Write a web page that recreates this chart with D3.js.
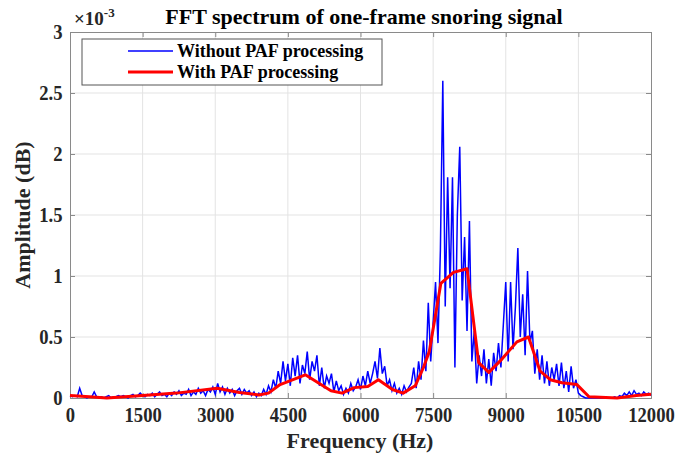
<!DOCTYPE html>
<html>
<head>
<meta charset="utf-8">
<script src="https://cdn.jsdelivr.net/npm/d3@7"></script>
<style>
  body { margin: 0; background: #fff; }
  text { font-family: "Liberation Serif", "Times New Roman", serif; font-weight: bold; }
</style>
</head>
<body>
<script>
// amplitudes in units of 1e-3, blue sampled every 50 Hz from 0 to 12000
const freq_step = 50
const raw_amp = [
  0.02,0.01,0.02,0.01,0.08,0.02,0.01,0.00,0.01,0.01,
  0.05,0.01,0.00,0.01,0.00,0.01,0.02,0.00,0.01,0.01,
  0.02,0.01,0.02,0.01,0.00,0.02,0.03,0.01,0.02,0.04,
  0.02,
  0.01,0.03,0.02,0.04,0.01,0.03,0.05,0.02,0.03,0.01,
  0.04,0.02,0.05,0.03,0.06,0.02,0.04,0.03,0.07,0.02,
  0.05,0.03,0.08,0.04,0.06,0.02,0.07,0.05,0.09,0.03,
  0.12,0.05,0.09,0.03,0.08,0.04,0.07,0.02,0.06,0.08,
  0.03,0.07,0.04,0.06,0.02,0.05,0.01,0.04,0.02,0.07,
  0.03,0.10,0.05,0.15,0.08,0.22,0.12,0.30,0.14,0.28,
  0.10,0.33,0.18,0.35,0.12,0.27,0.20,0.38,0.15,0.30,
  0.22,0.35,0.10,0.25,0.08,0.18,0.12,0.20,0.05,0.14,
  0.06,0.10,0.03,0.08,0.04,0.12,0.06,0.09,0.15,0.07,
  0.18,0.10,0.22,0.12,0.20,0.30,0.16,0.41,0.20,0.26,
  0.10,0.15,0.06,0.12,0.04,0.08,0.03,0.10,0.05,0.09,
  0.12,0.25,0.08,0.30,0.15,0.47,0.22,0.78,0.30,0.62,
  0.95,0.45,1.21,2.60,0.75,1.81,0.90,1.81,0.25,1.50,
  2.06,0.80,1.32,0.55,1.45,0.30,0.55,0.12,0.35,0.18,
  0.40,0.12,0.32,0.10,0.37,0.22,0.45,0.25,0.60,0.95,
  0.30,0.95,0.40,0.75,1.23,0.50,0.85,0.35,1.04,0.45,
  0.55,0.20,0.40,0.15,0.35,0.12,0.30,0.10,0.25,0.15,
  0.28,0.10,0.29,0.08,0.22,0.05,0.26,0.08,0.15,0.04,
  0.02,0.01,0.00,0.00,0.00,0.00,0.00,0.00,0.00,0.00,
  0.00,0.00,0.00,0.00,0.01,0.00,0.02,0.01,0.04,0.02,
  0.05,0.02,0.06,0.03,0.04,0.02,0.05,0.03,0.04,0.02
]
const paf_freq = [0,400,760,1500,2200,3040,3500,3900,4100,4340,4860,5390,5620,5870,6150,6370,6660,6880,7130,7300,7420,7660,7920,8200,8440,8650,8900,9230,9470,9710,9920,10160,10470,10720,11300,11700,12000]
const paf_amp  = [0.02,0.01,0.00,0.02,0.04,0.08,0.045,0.025,0.04,0.11,0.19,0.06,0.04,0.085,0.095,0.15,0.07,0.04,0.10,0.25,0.38,0.94,1.03,1.06,0.29,0.21,0.31,0.46,0.50,0.22,0.15,0.125,0.11,0.01,0.0,0.02,0.03]
const x_ticks = [0,1500,3000,4500,6000,7500,9000,10500,12000]
const y_ticks = [0,0.5,1,1.5,2,2.5,3]

const W = 694, H = 460
const m = {left: 70, top: 32, right: 694 - 651, bottom: 460 - 398}
const iw = W - m.left - m.right, ih = H - m.top - m.bottom

const svg = d3.select('body').append('svg').attr('width', W).attr('height', H)

const x = d3.scaleLinear().domain([0, 12000]).range([0, iw])
const y = d3.scaleLinear().domain([0, 3]).range([ih, 0])

const g = svg.append('g').attr('transform', `translate(${m.left},${m.top})`)

// grid
g.append('g').selectAll('line').data(x_ticks.slice(1, -1)).enter().append('line')
  .attr('x1', d => x(d)).attr('x2', d => x(d)).attr('y1', 0).attr('y2', ih)
  .attr('stroke', '#e3e3e3').attr('stroke-width', 1)
g.append('g').selectAll('line').data(y_ticks.slice(1, -1)).enter().append('line')
  .attr('y1', d => y(d)).attr('y2', d => y(d)).attr('x1', 0).attr('x2', iw)
  .attr('stroke', '#e3e3e3').attr('stroke-width', 1)

// axes (ticks inward like matlab)
const tk = 5
const xa = g.append('g').attr('transform', `translate(0,${ih})`)
  .call(d3.axisBottom(x).tickValues(x_ticks).tickSize(-tk).tickPadding(10).tickFormat(d3.format('d')))
const xt = g.append('g').call(d3.axisTop(x).tickValues(x_ticks).tickSize(-tk).tickFormat(''))
const ya = g.append('g').call(d3.axisLeft(y).tickValues(y_ticks).tickSize(-tk).tickPadding(8).tickFormat(d => d))
const yr = g.append('g').attr('transform', `translate(${iw},0)`).call(d3.axisRight(y).tickValues(y_ticks).tickSize(-tk).tickFormat(''))
for (const a of [xa, xt, ya, yr]) {
  a.select('.domain').attr('stroke', '#8a8a8a')
  a.selectAll('.tick line').attr('stroke', '#8a8a8a')
  a.selectAll('.tick text').attr('fill', '#262626').attr('font-size', 20)
    .attr('font-family', '"Liberation Serif", serif').attr('font-weight', 'bold')
    .attr('transform', 'scale(0.93,1)')
}

// series
const blue = raw_amp.map((v, i) => ({f: i * freq_step, v: v}))
const red = paf_freq.map((f, i) => ({f: f, v: paf_amp[i]}))
const line = d3.line().x(d => x(d.f)).y(d => y(d.v))

g.append('path').datum(blue).attr('d', line)
  .attr('fill', 'none').attr('stroke', '#0000ff').attr('stroke-width', 1.5)
g.append('path').datum(red).attr('d', line)
  .attr('fill', 'none').attr('stroke', '#ff0000').attr('stroke-width', 3).attr('stroke-linejoin', 'round')

// legend
const lg = svg.append('g')
lg.append('rect').attr('x', 82).attr('y', 39).attr('width', 300).attr('height', 46)
  .attr('fill', '#fff').attr('stroke', '#555').attr('stroke-width', 1)
const legend_items = [['Without PAF processing', '#0000ff', 1.5], ['With PAF processing', '#ff0000', 3]]
legend_items.forEach((it, i) => {
  const yy = 51 + i * 21
  lg.append('line').attr('x1', 128).attr('x2', 173).attr('y1', yy).attr('y2', yy)
    .attr('stroke', it[1]).attr('stroke-width', it[2])
  lg.append('text').attr('x', 177).attr('y', yy + 6).attr('font-size', 18).attr('fill', '#000').text(it[0])
})

// titles
svg.append('text').attr('x', 364).attr('y', 24).attr('text-anchor', 'middle')
  .attr('font-size', 22).text('FFT spectrum of one-frame snoring signal')
svg.append('text').attr('x', 360).attr('y', 448).attr('text-anchor', 'middle')
  .attr('font-size', 22).attr('fill', '#262626').text('Frequency (Hz)')
svg.append('text').attr('transform', `translate(30,${m.top + ih / 2}) rotate(-90)`).attr('text-anchor', 'middle')
  .attr('font-size', 22).attr('fill', '#262626').text('Amplitude (dB)')
const ex = svg.append('text').attr('x', 74).attr('y', 25).attr('font-size', 19)
  .attr('font-weight', 'normal').attr('fill', '#262626')
ex.append('tspan').text('\u00d710')
ex.append('tspan').attr('dy', -8).attr('font-size', 13).text('-3')
</script>
</body>
</html>
